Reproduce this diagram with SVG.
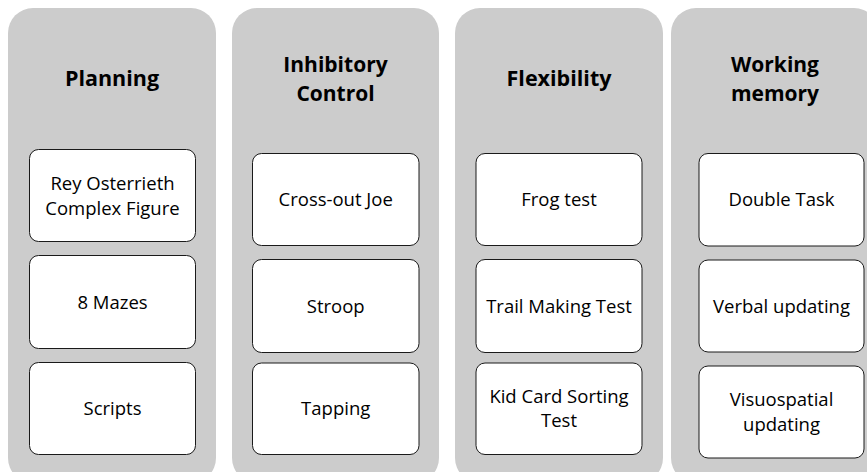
<svg xmlns="http://www.w3.org/2000/svg" width="867" height="472" viewBox="0 0 867 472">
<style>
.panel{fill:#cccccc;stroke:none}
.box{fill:#ffffff;stroke:#1a1a1a;stroke-width:1}
.title{font-family:"Open Sans","Liberation Sans",sans-serif;font-weight:bold;font-size:21.5px;fill:#000;text-anchor:middle}
.title2{font-size:21px}
.label{font-family:"Open Sans","Liberation Sans",sans-serif;font-size:18.5px;fill:#000;text-anchor:middle}
</style>
<rect width="867" height="472" fill="#ffffff"/>
<g id="panel-planning">
<rect class="panel" x="8" y="8" width="208" height="475" rx="25"/>
<text class="title" x="112" y="86">Planning</text>
</g>
<g id="panel-inhibitory">
<rect class="panel" x="232" y="8" width="207" height="475" rx="25"/>
<text class="title title2" x="335.5" y="72">Inhibitory</text>
<text class="title title2" x="335.5" y="100.8">Control</text>
</g>
<g id="panel-flexibility">
<rect class="panel" x="455" y="8" width="208" height="475" rx="25"/>
<text class="title" x="559" y="86">Flexibility</text>
</g>
<g id="panel-working">
<rect class="panel" x="671" y="8" width="208" height="475" rx="25"/>
<text class="title title2" x="775" y="72">Working</text>
<text class="title title2" x="775" y="100.8">memory</text>
</g>
<g id="node-rey">
<rect class="box" x="29.5" y="149.5" width="166" height="92" rx="9"/>
<text class="label" x="112.5" y="189.5">Rey Osterrieth</text>
<text class="label" x="112.5" y="214.5">Complex Figure</text>
</g>
<g id="node-mazes">
<rect class="box" x="29.5" y="255.5" width="166" height="93" rx="9"/>
<text class="label" x="112.5" y="308.5">8 Mazes</text>
</g>
<g id="node-scripts">
<rect class="box" x="29.5" y="362.5" width="166" height="92" rx="9"/>
<text class="label" x="112.5" y="415">Scripts</text>
</g>
<g id="node-crossout">
<rect class="box" x="252.5" y="153.5" width="166.5" height="92" rx="9"/>
<text class="label" x="335.7" y="206">Cross-out Joe</text>
</g>
<g id="node-stroop">
<rect class="box" x="252.5" y="259.5" width="166.5" height="93" rx="9"/>
<text class="label" x="335.7" y="312.5">Stroop</text>
</g>
<g id="node-tapping">
<rect class="box" x="252.5" y="363" width="166.5" height="91.5" rx="9"/>
<text class="label" x="335.7" y="415">Tapping</text>
</g>
<g id="node-frog">
<rect class="box" x="476" y="153.5" width="166" height="92" rx="9"/>
<text class="label" x="559" y="206">Frog test</text>
</g>
<g id="node-trail">
<rect class="box" x="476" y="259.5" width="166" height="93" rx="9"/>
<text class="label" x="559" y="312.5">Trail Making Test</text>
</g>
<g id="node-kid">
<rect class="box" x="476" y="363" width="166" height="91.5" rx="9"/>
<text class="label" x="559" y="402.5">Kid Card Sorting</text>
<text class="label" x="559" y="427">Test</text>
</g>
<g id="node-double">
<rect class="box" x="699" y="153.5" width="165" height="92.5" rx="9"/>
<text class="label" x="781.5" y="206">Double Task</text>
</g>
<g id="node-verbal">
<rect class="box" x="699" y="260" width="165" height="92" rx="9"/>
<text class="label" x="781.5" y="312.5">Verbal updating</text>
</g>
<g id="node-visuo">
<rect class="box" x="699" y="366" width="165" height="92" rx="9"/>
<text class="label" x="781.5" y="406">Visuospatial</text>
<text class="label" x="781.5" y="430.5">updating</text>
</g>
<g id="connectors"/>
</svg>
